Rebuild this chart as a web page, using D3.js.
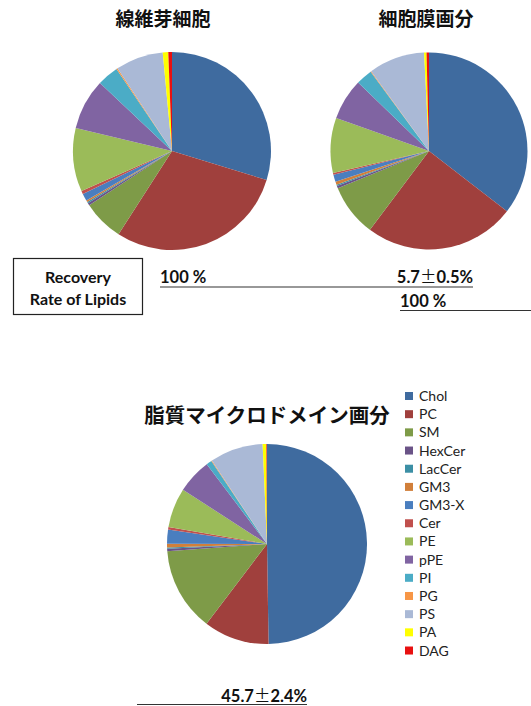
<!DOCTYPE html>
<html>
<head>
<meta charset="utf-8">
<script src="https://cdn.jsdelivr.net/npm/d3@7/dist/d3.min.js"></script>
<style>
  html, body { margin: 0; padding: 0; background: #fff; }
  svg { display: block; }
</style>
</head>
<body>
<svg id="chart" width="531" height="706"></svg>
<script>
// Lipid classes, in legend / slice order (clockwise from 12 o'clock)
const lipids = ["Chol", "PC", "SM", "HexCer", "LacCer", "GM3", "GM3-X", "Cer",
                "PE", "pPE", "PI", "PG", "PS", "PA", "DAG"];

// Composition (% of total lipid) for each fraction
const fibroblast  = [29.8, 29.4, 6.7, 0.4, 0.2, 0.3, 1.2, 0.5, 10.4, 8.3, 3.5, 0.2, 7.8, 0.9, 0.6];
const membrane    = [35.5, 24.8, 8.6, 0.4, 0.2, 0.5, 1.2, 0.3, 9.0, 6.8, 2.7, 0.1, 9.2, 0.4, 0.4];
const microdomain = [49.8, 10.6, 13.5, 0.4, 0.2, 0.6, 2.3, 0.4, 6.4, 5.6, 0.9, 0.1, 8.6, 0.6, 0.1];

const lipidColors = ["#3F6B9F", "#A0403D", "#7E9B48", "#6A5387", "#3C8FA5", "#D17F3A",
                     "#4A7EBF", "#C0504D", "#9BBB59", "#8064A2", "#4BACC6", "#F79646",
                     "#AAB9D6", "#FFFF00", "#E81010"];

const pieTitles = ["線維芽細胞", "細胞膜画分", "脂質マイクロドメイン画分"];
const recoveryHeader = ["Recovery", "Rate of Lipids"];
const recoveryLabels = ["100 %", "5.7±0.5%", "100 %", "45.7±2.4%"];

const svg = d3.select("#chart");
const color = d3.scaleOrdinal().domain(lipids).range(lipidColors);
const pie = d3.pie().sort(null).value(d => d.value);

function drawPie(values, cx, cy, r) {
  const arc = d3.arc().innerRadius(0).outerRadius(r);
  const data = lipids.map((name, i) => ({ name, value: values[i] }));
  svg.append("g")
    .attr("transform", `translate(${cx},${cy})`)
    .selectAll("path")
    .data(pie(data))
    .join("path")
    .attr("d", arc)
    .attr("fill", d => color(d.data.name));
}

drawPie(fibroblast, 172, 151, 99);
drawPie(membrane, 429, 151, 98.5);
drawPie(microdomain, 267, 544, 100);

// Titles
const titleFont = "'Noto Sans CJK JP', sans-serif";
[[pieTitles[0], 163, 26, 19], [pieTitles[1], 426, 26, 19], [pieTitles[2], 267, 423, 20.5]]
  .forEach(([t, x, y, s]) => {
    svg.append("text")
      .attr("x", x).attr("y", y)
      .attr("text-anchor", "middle")
      .attr("font-family", titleFont)
      .attr("font-weight", "bold")
      .attr("font-size", s)
      .attr("fill", "#111")
      .text(t);
  });

// Recovery rate box
const bodyFont = "Lato, 'Open Sans', sans-serif";
svg.append("rect")
  .attr("x", 13.5).attr("y", 258.5).attr("width", 129).attr("height", 56)
  .attr("fill", "#fff").attr("stroke", "#222").attr("stroke-width", 1.2);
recoveryHeader.forEach((t, i) => {
  svg.append("text")
    .attr("x", 78).attr("y", 283 + i * 22)
    .attr("text-anchor", "middle")
    .attr("font-family", bodyFont).attr("font-weight", "bold").attr("font-size", 16)
    .attr("fill", "#111")
    .text(t);
});

// Recovery values with their underlines; the ± sign is set in the CJK face (full width)
const rateRows = [
  { label: recoveryLabels[0], x: 160, y: 283, anchor: "start" },
  { label: recoveryLabels[1], x: 473, y: 283, anchor: "end" },
  { label: recoveryLabels[2], x: 400, y: 307, anchor: "start" },
  { label: recoveryLabels[3], x: 307, y: 702, anchor: "end" }
];
rateRows.forEach(r => {
  const t = svg.append("text")
    .attr("x", r.x).attr("y", r.y)
    .attr("text-anchor", r.anchor)
    .attr("font-family", bodyFont).attr("font-weight", "bold").attr("font-size", 16.5)
    .attr("fill", "#111");
  r.label.split(/(±)/).filter(s => s.length).forEach(part => {
    const span = t.append("tspan").text(part);
    if (part === "±") span.attr("font-family", titleFont).attr("font-weight", "normal");
  });
});
[[160, 473, 287], [400, 531, 310.5], [137, 307, 704.5]].forEach(([x1, x2, y]) => {
  svg.append("line")
    .attr("x1", x1).attr("x2", x2).attr("y1", y).attr("y2", y)
    .attr("stroke", "#333").attr("stroke-width", 1.2);
});

// Legend
const legend = svg.append("g").attr("transform", "translate(405,396)");
const rows = legend.selectAll("g")
  .data(lipids)
  .join("g")
  .attr("transform", (d, i) => `translate(0,${i * 18.18})`);
rows.append("rect")
  .attr("x", 0).attr("y", -4).attr("width", 8).attr("height", 8)
  .attr("fill", d => color(d));
rows.append("text")
  .attr("x", 14).attr("y", 5)
  .attr("font-family", bodyFont).attr("font-size", 14)
  .attr("fill", "#222")
  .text(d => d);
</script>
</body>
</html>
